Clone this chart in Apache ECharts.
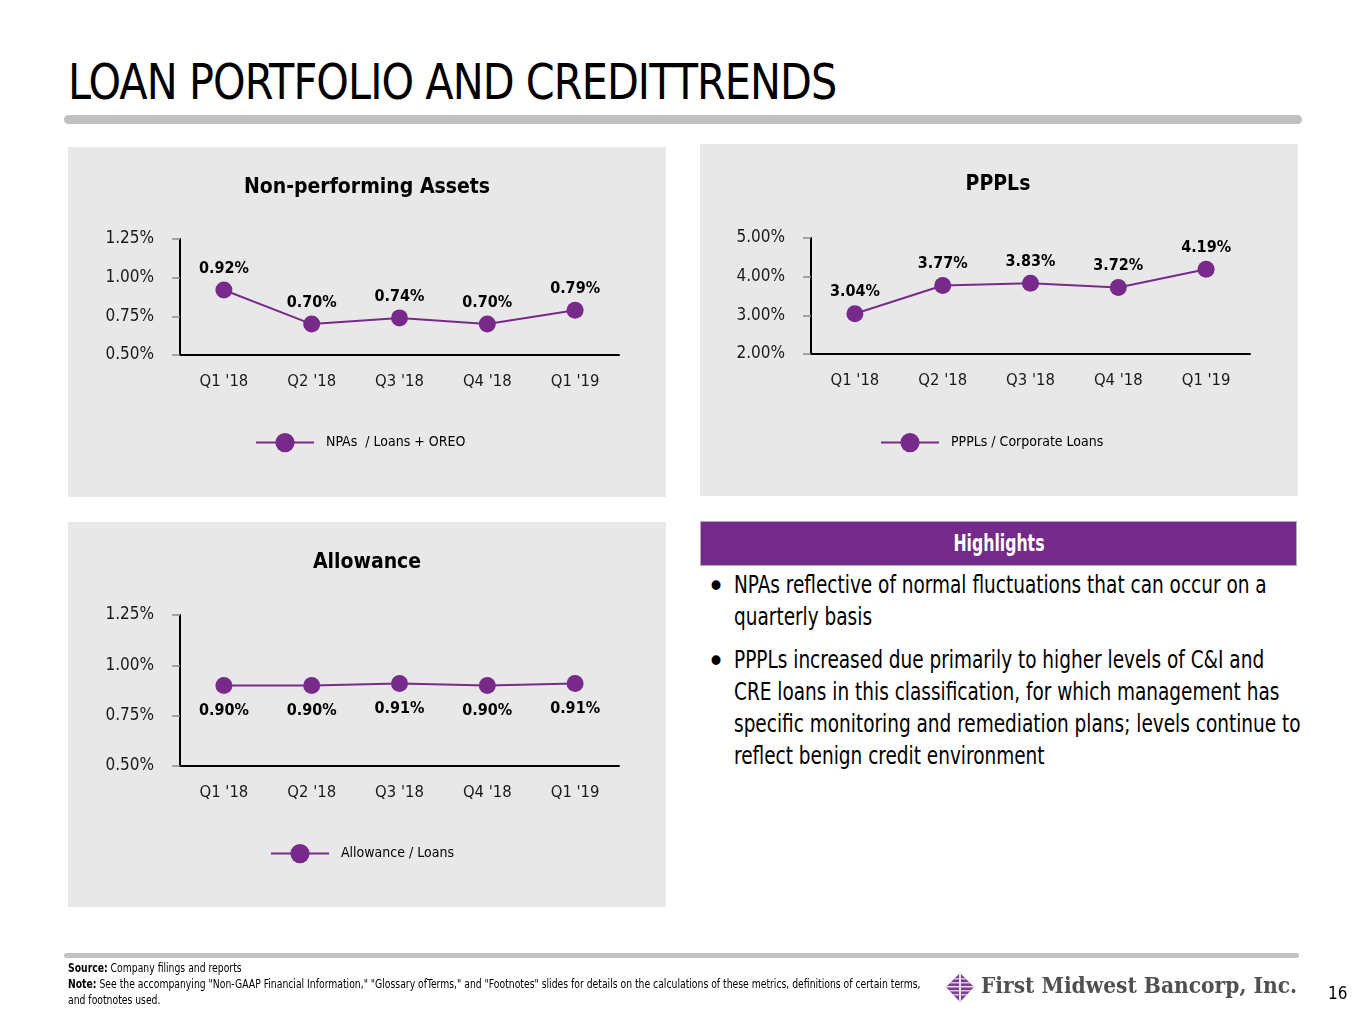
<!DOCTYPE html>
<html>
<head>
<meta charset="utf-8">
<script src="https://cdn.jsdelivr.net/npm/echarts@6/dist/echarts.min.js"></script>
<style>
  html, body { margin:0; padding:0; background:#fff; }
  #page { position:relative; width:1365px; height:1024px; overflow:hidden; font-family:"DejaVu Sans Condensed", sans-serif; }
  .panel { position:absolute; background:#e8e8e8; }
  #chart { position:absolute; left:0; top:0; width:1365px; height:1024px; }
  #title { position:absolute; left:68px; top:52px; font-family:"DejaVu Sans Condensed", sans-serif; font-size:50px; color:#000; white-space:nowrap; letter-spacing:-1px; transform-origin:left top; transform:scaleX(0.92); line-height:60px; }
  #rule1 { position:absolute; left:64px; top:115px; width:1238px; height:9px; border-radius:5px; background:#c0c0c0; }
  #rule2 { position:absolute; left:64px; top:953px; width:1235px; height:5px; border-radius:3px; background:#c3c3c3; }
  #hlhead { position:absolute; left:700px; top:521px; width:595px; height:43px; background:#742a89; border:1px solid #b9a9bf; color:#fff; font-weight:bold; font-size:23px; text-align:center; line-height:43px; }
  #hlhead span { display:inline-block; transform:scaleX(0.76); }
  .bul { position:absolute; left:734px; font-size:25px; line-height:32px; color:#000; white-space:nowrap; transform-origin:left top; transform:scaleX(0.822); }
  .dot { position:absolute; font-size:34px; line-height:32px; }
  #foot { position:absolute; left:68px; top:960px; font-size:12px; line-height:16px; color:#000; white-space:nowrap; transform-origin:left top; transform:scaleX(0.858); }
  #logo { position:absolute; left:945px; top:972px; }
  #logotext { position:absolute; left:981px; top:972px; font-family:"DejaVu Serif Condensed", "DejaVu Serif", serif; font-weight:bold; font-size:22.5px; color:#505050; white-space:nowrap; }
  #pnum { position:absolute; left:1328px; top:983px; font-size:17px; color:#000; }
</style>
</head>
<body>
<div id="page">
  <div id="title">LOAN PORTFOLIO AND CREDITTRENDS</div>
  <div id="rule1"></div>
  <div class="panel" style="left:68px;top:147px;width:598px;height:350px;"></div>
  <div class="panel" style="left:700px;top:144px;width:598px;height:352px;"></div>
  <div class="panel" style="left:68px;top:522px;width:598px;height:385px;"></div>
  <div id="hlhead"><span>Highlights</span></div>
  <div class="dot" style="left:707px;top:570px;">•</div>
  <div class="bul" style="top:569px;">NPAs reflective of normal fluctuations that can occur on a<br>quarterly basis</div>
  <div class="dot" style="left:707px;top:645px;">•</div>
  <div class="bul" style="top:644px;">PPPLs increased due primarily to higher levels of C&amp;I and<br>CRE loans in this classification, for which management has<br>specific monitoring and remediation plans; levels continue to<br>reflect benign credit environment</div>
  <div id="chart"></div>
  <div id="rule2"></div>
  <div id="foot"><b>Source:</b> Company filings and reports<br><b>Note:</b> See the accompanying "Non-GAAP Financial Information," "Glossary ofTerms," and "Footnotes" slides for details on the calculations of these metrics, definitions of certain terms,<br>and footnotes used.</div>
  <svg id="logo" width="30" height="32" viewBox="0 0 30 32">
    <defs><clipPath id="dia"><polygon points="15,1 29,15 15,30 1,15"/></clipPath></defs>
    <g clip-path="url(#dia)">
      <rect x="0" y="0" width="30" height="32" fill="#7a3f8f"/>
      <rect x="0" y="6" width="30" height="1.5" fill="#d8c4e0"/>
      <rect x="0" y="10" width="30" height="1.5" fill="#d8c4e0"/>
      <rect x="0" y="14" width="30" height="1.5" fill="#e8def0"/>
      <rect x="0" y="18" width="30" height="1.5" fill="#d8c4e0"/>
      <rect x="0" y="22" width="30" height="1.5" fill="#d8c4e0"/>
      <rect x="14" y="0" width="2" height="32" fill="#efe6f3"/>
    </g>
  </svg>
  <div id="logotext">First Midwest Bancorp, Inc.</div>
  <div id="pnum">16</div>
</div>
<script>
const categories = ["Q1 '18", "Q2 '18", "Q3 '18", "Q4 '18", "Q1 '19"];
const npaValues = [0.92, 0.70, 0.74, 0.70, 0.79];
const ppplValues = [3.04, 3.77, 3.83, 3.72, 4.19];
const allowanceValues = [0.90, 0.90, 0.91, 0.90, 0.91];
const panelTitles = ["Non-performing Assets", "PPPLs", "Allowance"];
const seriesNames = ["NPAs  / Loans + OREO", "PPPLs / Corporate Loans", "Allowance / Loans"];

const PURPLE = '#782a8b';
const FONT = '"DejaVu Sans Condensed", sans-serif';

const grids = [
  { left: 180, top: 239, width: 439, height: 116 },
  { left: 811, top: 238, width: 439, height: 116 },
  { left: 180, top: 615, width: 439, height: 151 }
];
const yCfg = [
  { min: 0.5, max: 1.25, interval: 0.25 },
  { min: 2, max: 5, interval: 1 },
  { min: 0.5, max: 1.25, interval: 0.25 }
];
const data = [npaValues, ppplValues, allowanceValues];
const labelPos = ['top', 'top', 'bottom'];
const labelDist = [5, 5, 9];
const titlePos = [{ x: 367, y: 177 }, { x: 998, y: 174 }, { x: 367, y: 552 }];
const legendPos = [{ x: 255, y: 433 }, { x: 880, y: 433 }, { x: 270, y: 844 }];

const chart = echarts.init(document.getElementById('chart'), null, { renderer: 'canvas' });
const option = {
  animation: false,
  title: panelTitles.map((t, i) => ({
    text: t, left: titlePos[i].x, top: titlePos[i].y, textAlign: 'center', padding: 0,
    textStyle: { fontFamily: FONT, fontWeight: 'bold', fontSize: 21, color: '#000' }
  })),
  legend: seriesNames.map((n, i) => ({
    data: [n], left: legendPos[i].x, top: legendPos[i].y, padding: 0,
    itemWidth: 58, itemHeight: 24,
    textStyle: { fontFamily: FONT, fontSize: 14, color: '#000', padding: [0, 0, 0, 7] }
  })),
  grid: grids,
  xAxis: grids.map((g, i) => ({
    type: 'category', gridIndex: i, data: categories, boundaryGap: true,
    axisLine: { lineStyle: { color: '#000', width: 2 } },
    axisTick: { show: false },
    axisLabel: { fontFamily: FONT, fontSize: 16.5, color: '#1a1a1a', margin: 18 }
  })),
  yAxis: grids.map((g, i) => ({
    type: 'value', gridIndex: i, min: yCfg[i].min, max: yCfg[i].max, interval: yCfg[i].interval,
    axisLine: { show: true, lineStyle: { color: '#000', width: 2 } },
    axisTick: { show: true, length: 8, lineStyle: { color: '#8a8a8a', width: 1.5 } },
    splitLine: { show: false },
    axisLabel: { fontFamily: FONT, fontSize: 17, color: '#1a1a1a', margin: 26, formatter: v => v.toFixed(2) + '%' }
  })),
  series: data.map((d, i) => ({
    type: 'line', name: seriesNames[i], xAxisIndex: i, yAxisIndex: i, data: d,
    symbol: 'circle', symbolSize: 17,
    lineStyle: { color: PURPLE, width: 2 },
    itemStyle: { color: PURPLE },
    label: {
      show: true, position: labelPos[i], distance: labelDist[i],
      fontFamily: FONT, fontWeight: 'bold', fontSize: 16, color: '#000',
      formatter: p => p.value.toFixed(2) + '%'
    }
  }))
};
chart.setOption(option);
</script>
</body>
</html>
